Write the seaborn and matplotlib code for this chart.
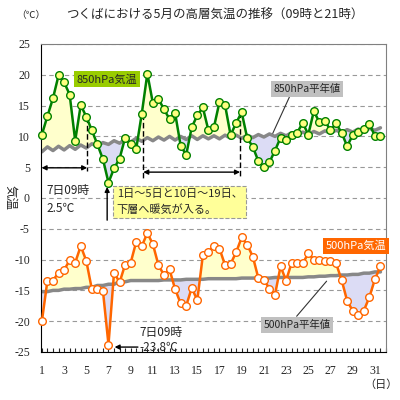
"""
つくばにおける5月の高層気温の推移 (850hPa / 500hPa, 09時と21時)
"""
import numpy as np
import pandas as pd
import matplotlib
matplotlib.use("Agg")
import matplotlib.pyplot as plt
import seaborn as sns

# 日 (1～31)
days = list(range(1, 32))

# 850hPa 気温 (℃)
t850_09 = [10.3, 16.2, 18.8, 9.3, 13.2, 8.7, 2.5, 6.4, 8.7, 13.7, 15.4, 14.4, 13.8, 7.0, 13.4, 11.0,
           15.6, 10.2, 13.9, 8.3, 5.0, 7.7, 9.4, 10.6, 10.3, 12.3, 11.0, 10.6, 10.2, 11.2, 10.1]
t850_21 = [13.3, 19.9, 16.8, 15.1, 11.0, 6.3, 4.8, 9.8, 8.0, 20.2, 16.1, 12.8, 8.5, 11.5, 14.7, 11.5,
           15.1, 12.2, 9.7, 6.0, 5.8, 9.8, 10.2, 12.2, 14.1, 12.5, 12.1, 8.4, 10.7, 12.0, 10.1]

# 850hPa 平年値 (℃)
n850_09 = [7.5, 7.7, 7.8, 7.9, 8.1, 8.4, 8.7, 8.9, 9.1, 9.2, 9.3, 9.4, 9.4, 9.5, 9.5, 9.6,
           9.6, 9.7, 9.7, 9.8, 9.9, 10.0, 10.1, 10.2, 10.3, 10.4, 10.5, 10.6, 10.7, 10.8, 11.0]
n850_21 = [8.3, 8.4, 8.5, 8.6, 8.8, 9.0, 9.3, 9.5, 9.7, 9.8, 9.9, 10.0, 10.0, 10.1, 10.1, 10.1,
           10.2, 10.2, 10.2, 10.3, 10.4, 10.5, 10.6, 10.7, 10.8, 10.9, 11.0, 11.1, 11.2, 11.3, 11.4]

# 500hPa 気温 (℃)
t500_09 = [-20.0, -13.4, -11.7, -10.5, -10.2, -14.8, -23.8, -13.7, -10.5, -7.8, -7.5, -12.5, -14.8,
           -17.5, -16.6, -8.8, -8.2, -10.7, -6.4, -9.5, -13.3, -15.7, -13.4, -10.6, -9.0, -10.1,
           -10.2, -13.3, -18.3, -18.3, -13.2]
t500_21 = [-13.4, -12.1, -10.1, -7.8, -14.8, -15.1, -12.1, -10.8, -7.1, -5.7, -10.9, -11.6, -17.1,
           -14.6, -9.3, -7.8, -10.9, -8.8, -7.6, -13.0, -14.7, -11.1, -10.5, -10.6, -10.0, -10.3,
           -10.6, -16.7, -19.0, -16.1, -11.1]

# 500hPa 平年値 (℃, 日ごと)
n500 = [-15.2, -15.0, -14.8, -14.7, -14.5, -14.2, -14.0, -13.6, -13.4, -13.4, -13.4, -13.3, -13.3,
        -13.2, -13.2, -13.1, -13.1, -13.1, -13.0, -13.0, -13.0, -12.9, -12.9, -12.9, -12.8, -12.7,
        -12.6, -12.5, -12.4, -12.2, -12.0]

YELLOW = "#FFFFCC"
LAVENDER = "#DCDCF5"
GRAY = "#888888"
SERIF = "Liberation Serif"


def interleave(a, b):
    # 09時, 21時 の順に並べる
    return np.column_stack([a, b]).ravel()


x = np.column_stack([days, np.array(days) + 0.5]).ravel()
df = pd.DataFrame({
    "x": x,
    "t850": interleave(t850_09, t850_21),
    "n850": interleave(n850_09, n850_21),
    "t500": interleave(t500_09, t500_21),
    "n500": np.repeat(n500, 2),
})

sns.set_style("white")
plt.rcParams["font.family"] = ["Noto Sans CJK JP", "DejaVu Sans"]
plt.rcParams["axes.unicode_minus"] = False

fig = plt.figure(figsize=(4, 4), dpi=100)
ax = fig.add_axes([0.1025, 0.12, 0.8625, 0.77])

# 平年値との差を塗り分け
for obs, nor in [("t850", "n850"), ("t500", "n500")]:
    ax.fill_between(df["x"], df[obs], df[nor], where=df[obs] >= df[nor],
                    interpolate=True, color=YELLOW, lw=0, zorder=1)
    ax.fill_between(df["x"], df[obs], df[nor], where=df[obs] < df[nor],
                    interpolate=True, color=LAVENDER, lw=0, zorder=1)

sns.lineplot(data=df, x="x", y="n850", color=GRAY, lw=2.5, ax=ax, zorder=2)
sns.lineplot(data=df, x="x", y="n500", color=GRAY, lw=2.5, ax=ax, zorder=2)
sns.lineplot(data=df, x="x", y="t850", color="#008000", lw=1.8, marker="o", markersize=5.5,
             markerfacecolor="#FFFF80", markeredgecolor="#008000", markeredgewidth=1,
             ax=ax, zorder=4, clip_on=False)
sns.lineplot(data=df, x="x", y="t500", color="#FF6600", lw=1.8, marker="o", markersize=5.5,
             markerfacecolor="white", markeredgecolor="#FF6600", markeredgewidth=1,
             ax=ax, zorder=4, clip_on=False)

ax.set_xlim(0.92, 32.0)
ax.set_ylim(-25, 25)
ax.set_xlabel("")
ax.set_ylabel("")

# 軸・目盛
yticks = list(range(-25, 26, 5))
xticks = list(range(1, 32, 2))
ax.set_yticks(yticks, labels=[str(v) for v in yticks], fontfamily=SERIF, fontsize=8.5)
ax.set_xticks(xticks, labels=[str(v) for v in xticks], fontfamily=SERIF, fontsize=8.5)
ax.set_xticks(np.arange(1, 32.01, 0.5), minor=True)
ax.tick_params(axis="y", left=False, length=0, pad=8)
ax.tick_params(axis="x", which="both", bottom=True, direction="in", length=3, width=0.8, pad=9)

ax.set_axisbelow(True)
ax.yaxis.grid(True, linestyle=(0, (4, 3)), color="#999999", lw=0.8)
for side in ["left", "bottom"]:
    ax.spines[side].set_color("black")
for side in ["top", "right"]:
    ax.spines[side].set_color("#808080")

# ラベル類
ax.text(6.85, 19.3, "850hPa気温", fontsize=8, ha="center", va="center", zorder=6,
        bbox=dict(boxstyle="square,pad=0.25", facecolor="#99CC00", edgecolor="none"))
ax.text(29.3, -7.8, "500hPa気温", fontsize=8, color="white", ha="center", va="center", zorder=6,
        bbox=dict(boxstyle="square,pad=0.25", facecolor="#FF6600", edgecolor="none"))
ax.text(24.9, 17.7, "850hPa平年値", fontsize=7.5, ha="center", va="center", zorder=6,
        bbox=dict(boxstyle="square,pad=0.25", facecolor="#C0C0C0", edgecolor="none"))
ax.text(24.0, -20.6, "500hPa平年値", fontsize=7.5, ha="center", va="center", zorder=6,
        bbox=dict(boxstyle="square,pad=0.25", facecolor="#C0C0C0", edgecolor="none"))
ax.plot([23.3, 21.8], [16.4, 10.5], color="#333333", lw=0.8, zorder=5)
ax.plot([23.95, 26.65], [-19.2, -13.5], color="#333333", lw=0.8, zorder=5)

# 暖気流入期間
arrow = dict(arrowstyle="<|-|>", color="black", lw=1, mutation_scale=7, shrinkA=0, shrinkB=0)
ax.annotate("", xy=(0.97, 4.9), xytext=(5.08, 4.9), arrowprops=arrow, zorder=5)
ax.annotate("", xy=(10.13, 4.2), xytext=(18.85, 4.2), arrowprops=arrow, zorder=5)
for xv, y0, y1 in [(5.08, 13.2, 4.4), (10.13, 13.7, 2.9), (18.85, 13.9, 3.2)]:
    ax.plot([xv, xv], [y0, y1], color="black", lw=1, ls=(0, (4, 2)), zorder=3)

ax.text(7.75, -0.65, "1日～5日と10日～19日、\n下層へ暖気が入る。", fontsize=8, ha="left",
        va="center", linespacing=1.5, zorder=6,
        bbox=dict(boxstyle="square,pad=0.3", facecolor="#FFFF99", edgecolor="#999999",
                  linestyle="--", lw=0.8))

ax.text(1.45, -0.2, "7日09時\n2.5℃", fontsize=8.5, ha="left", va="center", linespacing=1.5)
ax.annotate("", xy=(6.88, 1.8), xytext=(6.88, -3.6),
            arrowprops=dict(arrowstyle="-|>", color="black", lw=1, mutation_scale=7,
                            shrinkA=0, shrinkB=0))

ax.text(9.83, -21.8, "7日09時", fontsize=8.5, ha="left", va="center")
ax.text(9.83, -24.2, "-23.8℃", fontsize=8.5, ha="left", va="center", zorder=6)
ax.annotate("", xy=(7.55, -24.2), xytext=(9.65, -24.2),
            arrowprops=dict(arrowstyle="-|>", color="black", lw=1, mutation_scale=7,
                            shrinkA=0, shrinkB=0))

fig.text(0.536, 0.9625, "つくばにおける5月の高層気温の推移（09時と21時）", fontsize=9,
         ha="center", va="center")
fig.text(0.078, 0.9625, "（℃）", fontsize=7, ha="center", va="center")
fig.text(0.025, 0.506, "気温", fontsize=9, rotation=270, ha="center", va="center")
fig.text(0.953, 0.0375, "（日）", fontsize=8, ha="center", va="center")

fig.savefig("out.png", dpi=100)
